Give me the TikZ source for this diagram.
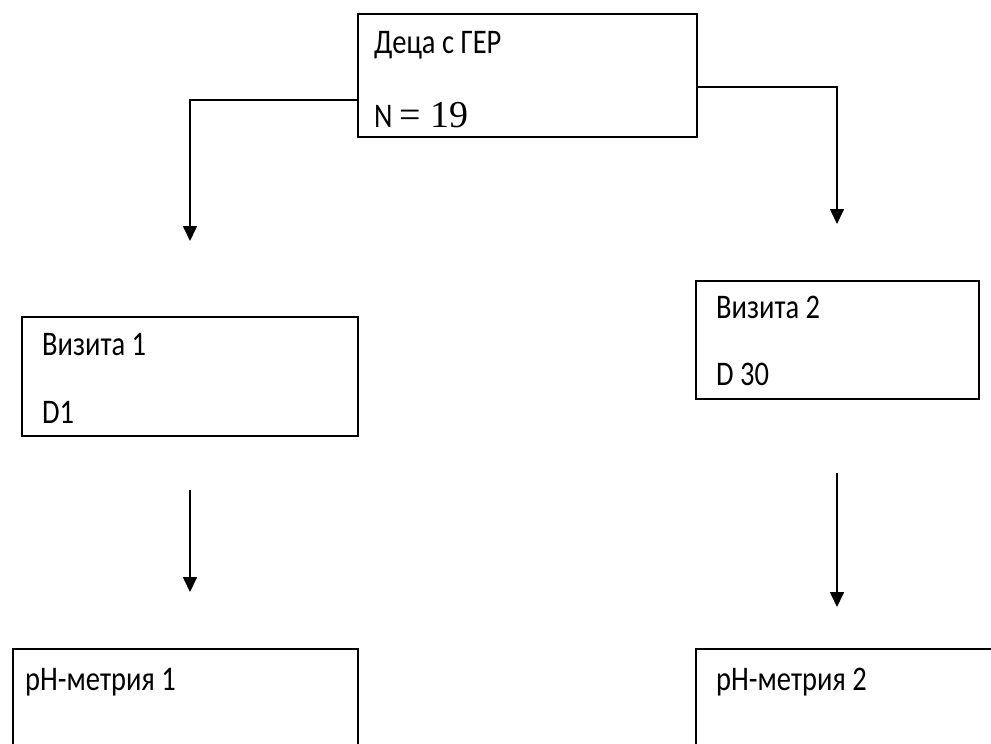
\documentclass[tikz,border=0pt]{standalone}
\usepackage{graphicx}
\usepackage{fontspec}
\setmainfont{Carlito}
\newfontfamily\serifnum{Liberation Serif}
\newcommand{\tx}[1]{\scalebox{0.95}[1.15]{#1}}
\usetikzlibrary{arrows.meta}
\begin{document}
\begin{tikzpicture}[x=1pt,y=-1pt,
  box/.style={draw,line width=1.7pt,rectangle,inner sep=0pt,anchor=north west},
  lbl/.style={anchor=base west,inner sep=0pt,font=\fontsize{30}{33}\selectfont},
  conn/.style={line width=1.7pt,-{Triangle[width=14pt,length=15pt]}}]
\useasboundingbox (0,0) rectangle (991,744);
\clip (0,0) rectangle (991,744);
% boxes
\node[box,minimum width=339pt,minimum height=123pt] (top) at (357,13) {};
\node[box,minimum width=336pt,minimum height=119pt] (v1) at (21,316) {};
\node[box,minimum width=283pt,minimum height=118pt] (v2) at (695,280) {};
\node[box,minimum width=345pt,minimum height=150pt] (p1) at (12,648) {};
\node[box,minimum width=345pt,minimum height=150pt] (p2) at (695,648) {};
% texts
\node[lbl] (t1) at (374,53) {\tx{Деца с ГЕР}};
\node[lbl] (t2) at (374,127) {\tx{N} {\fontsize{38}{40}\selectfont\serifnum = 19}};
\node[lbl] (t3) at (42,355) {\tx{Визита 1}};
\node[lbl] (t4) at (42,423) {\tx{D1}};
\node[lbl] (t5) at (716,318) {\tx{Визита 2}};
\node[lbl] (t6) at (716,385) {\tx{D 30}};
\node[lbl] (t7) at (25,690) {\tx{pH-метрия 1}};
\node[lbl] (t8) at (716,690) {\tx{pH-метрия 2}};
% connector end points
\coordinate (la) at (190,241);
\coordinate (ra) at (837,224);
\coordinate (l2s) at (190,490);
\coordinate (l2e) at (190,592);
\coordinate (r2s) at (837,473);
\coordinate (r2e) at (837,607);
% connectors
\draw[conn] (top.west |- 0,100) -| (la);
\draw[conn] (top.east |- 0,87) -| (ra);
\draw[conn] (l2s) -- (l2e);
\draw[conn] (r2s) -- (r2e);
\end{tikzpicture}
\end{document}
